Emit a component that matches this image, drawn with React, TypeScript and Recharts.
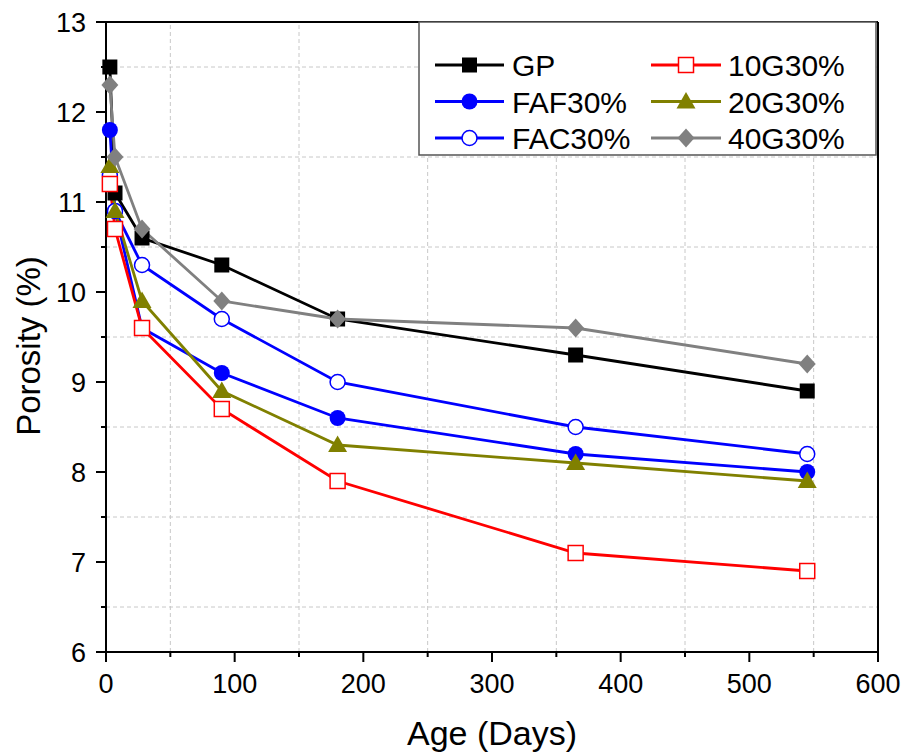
import React from 'react';
import { LineChart, Line, XAxis, YAxis, ReferenceLine, Label } from 'recharts';

// ---------- data ----------
const days = [3, 7, 28, 90, 180, 365, 545];
const gpValues = [12.5, 11.1, 10.6, 10.3, 9.7, 9.3, 8.9];
const faf30Values = [11.8, 10.9, 9.6, 9.1, 8.6, 8.2, 8.0];
const fac30Values = [11.3, 10.9, 10.3, 9.7, 9.0, 8.5, 8.2];
const g10Values = [11.2, 10.7, 9.6, 8.7, 7.9, 7.1, 6.9];
const g20Values = [11.4, 10.9, 9.9, 8.9, 8.3, 8.1, 7.9];
const g40Values = [12.3, 11.5, 10.7, 9.9, 9.7, 9.6, 9.2];

const xTicks = [0, 50, 100, 150, 200, 250, 300, 350, 400, 450, 500, 550, 600];
const yTicks = [6, 6.5, 7, 7.5, 8, 8.5, 9, 9.5, 10, 10.5, 11, 11.5, 12, 12.5, 13];
const xGrid = [50, 150, 250, 350, 450, 550];
const yGrid = [6.5, 7.5, 8.5, 9.5, 10.5, 11.5, 12.5];

type Shape = 'square' | 'circle' | 'triangle' | 'diamond';
interface Series { key: string; name: string; values: number[]; color: string; shape: Shape; filled: boolean; }

const series: Series[] = [
  { key: 'GP', name: 'GP', values: gpValues, color: '#000000', shape: 'square', filled: true },
  { key: 'FAF30', name: 'FAF30%', values: faf30Values, color: '#0000ff', shape: 'circle', filled: true },
  { key: 'FAC30', name: 'FAC30%', values: fac30Values, color: '#0000ff', shape: 'circle', filled: false },
  { key: 'G10', name: '10G30%', values: g10Values, color: '#ff0000', shape: 'square', filled: false },
  { key: 'G20', name: '20G30%', values: g20Values, color: '#808000', shape: 'triangle', filled: true },
  { key: 'G40', name: '40G30%', values: g40Values, color: '#808080', shape: 'diamond', filled: true },
];

const data = days.map((d, i) => {
  const row: Record<string, number> = { day: d };
  series.forEach((s) => { row[s.key] = s.values[i]; });
  return row;
});

const FONT = '"Liberation Sans", Arial, sans-serif';

function Marker({ cx, cy, shape, color, filled }: { cx: number; cy: number; shape: Shape; color: string; filled: boolean }) {
  const fill = filled ? color : '#ffffff';
  const sw = filled ? 0 : 1.5;
  if (shape === 'square') {
    return <rect x={cx - 7.5} y={cy - 7.5} width={15} height={15} fill={fill} stroke={color} strokeWidth={sw} />;
  }
  if (shape === 'circle') {
    return <circle cx={cx} cy={cy} r={filled ? 8 : 7.5} fill={fill} stroke={color} strokeWidth={sw} />;
  }
  if (shape === 'triangle') {
    return <polygon points={`${cx},${cy - 9.5} ${cx + 9.5},${cy + 7} ${cx - 9.5},${cy + 7}`} fill={fill} stroke={color} strokeWidth={sw} />;
  }
  return <polygon points={`${cx},${cy - 9.5} ${cx + 8.5},${cy} ${cx},${cy + 9.5} ${cx - 8.5},${cy}`} fill={fill} stroke={color} strokeWidth={sw} />;
}

const XTick = (props: any) => {
  const { x, y, payload } = props;
  const v = payload.value as number;
  const major = v % 100 === 0;
  return (
    <g>
      <line x1={x} y1={y} x2={x} y2={y + (major ? 10 : 5)} stroke="#000" strokeWidth={2} />
      {major && (
        <text x={x} y={y + 41} textAnchor="middle" fontSize={27} fontFamily={FONT} fill="#000">{v}</text>
      )}
    </g>
  );
};

const YTick = (props: any) => {
  const { x, y, payload } = props;
  const v = payload.value as number;
  const major = Number.isInteger(v);
  return (
    <g>
      <line x1={x} y1={y} x2={x - (major ? 10 : 5)} y2={y} stroke="#000" strokeWidth={2} />
      {major && (
        <text x={x - 20} y={y + 10} textAnchor="end" fontSize={27} fontFamily={FONT} fill="#000">{v}</text>
      )}
    </g>
  );
};

const legendCols = [
  { lineX1: 435, lineX2: 504, textX: 512 },
  { lineX1: 651, lineX2: 721, textX: 728 },
];
const legendRowsY = [65, 101.5, 138];

function LegendBox() {
  return (
    <svg width={902} height={753} style={{ position: 'absolute', left: 0, top: 0, pointerEvents: 'none' }}>
      <rect x={419} y={22} width={457} height={133} fill="#ffffff" stroke="#555555" strokeWidth={1.5} />
      {series.map((s, i) => {
        const col = legendCols[Math.floor(i / 3)];
        const y = legendRowsY[i % 3];
        const cx = (col.lineX1 + col.lineX2) / 2;
        return (
          <g key={s.key}>
            <line x1={col.lineX1} y1={y} x2={col.lineX2} y2={y} stroke={s.color} strokeWidth={2.8} />
            <Marker cx={cx} cy={y} shape={s.shape} color={s.color} filled={s.filled} />
            <text x={col.textX} y={y + 11} fontSize={30} fontFamily={FONT} fill="#000">{s.name}</text>
          </g>
        );
      })}
    </svg>
  );
}

export default function App() {
  return (
    <div style={{ position: 'absolute', left: 0, top: 0, width: 902, height: 753, background: '#fff' }}>
      <LineChart width={902} height={753} data={data} margin={{ top: 22, right: 24, left: 0, bottom: 0 }}>
        <XAxis
          dataKey="day"
          type="number"
          domain={[0, 600]}
          ticks={xTicks}
          interval={0}
          height={101}
          tickSize={0}
          tickMargin={0}
          tickLine={false}
          tick={<XTick />}
          axisLine={{ stroke: '#000', strokeWidth: 2 }}
        >
          <Label
            content={(p: any) => {
              const vb = p.viewBox || {};
              return (
                <text x={vb.x + vb.width / 2} y={vb.y + 93} textAnchor="middle" fontSize={34} fontFamily={FONT} fill="#000">Age (Days)</text>
              );
            }}
          />
        </XAxis>
        <YAxis
          type="number"
          domain={[6, 13]}
          ticks={yTicks}
          interval={0}
          width={106}
          tickSize={0}
          tickMargin={0}
          tickLine={false}
          tick={<YTick />}
          axisLine={{ stroke: '#000', strokeWidth: 2 }}
        >
          <Label
            content={(p: any) => {
              const vb = p.viewBox || {};
              const cx = vb.x + 40;
              const cy = vb.y + vb.height / 2 + 9;
              return (
                <text x={cx} y={cy} transform={`rotate(-90 ${cx} ${cy})`} textAnchor="middle" fontSize={33} fontFamily={FONT} fill="#000">Porosity (%)</text>
              );
            }}
          />
        </YAxis>
        {xGrid.map((v) => (
          <ReferenceLine key={`gx${v}`} x={v} stroke="#c8c8c8" strokeWidth={1} strokeDasharray="4 3" />
        ))}
        {yGrid.map((v) => (
          <ReferenceLine key={`gy${v}`} y={v} stroke="#c8c8c8" strokeWidth={1} strokeDasharray="4 3" />
        ))}
        <ReferenceLine y={13} stroke="#000" strokeWidth={2} />
        <ReferenceLine x={600} stroke="#000" strokeWidth={2} />
        {series.map((s) => (
          <Line
            key={s.key}
            dataKey={s.key}
            name={s.name}
            stroke={s.color}
            strokeWidth={2.8}
            isAnimationActive={false}
            dot={(p: any) => (
              <Marker key={`${s.key}-${p.index}`} cx={p.cx} cy={p.cy} shape={s.shape} color={s.color} filled={s.filled} />
            )}
            activeDot={false}
          />
        ))}
      </LineChart>
      <LegendBox />
    </div>
  );
}
